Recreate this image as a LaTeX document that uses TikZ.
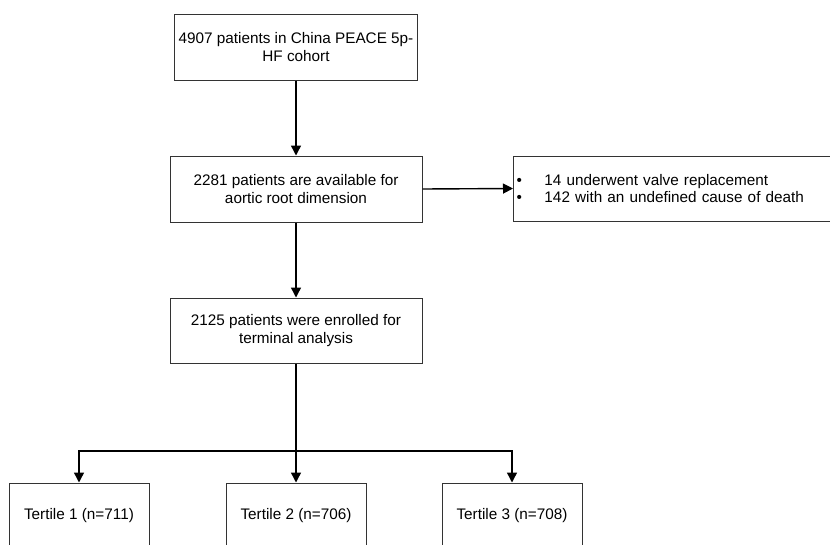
\documentclass[tikz,border=0pt]{standalone}
\usepackage{fontspec}
\setmainfont{Liberation Sans}
\usetikzlibrary{arrows.meta}
\begin{document}
\begin{tikzpicture}[x=1pt,y=-1pt,
  box/.style={draw=black!80, line width=1pt, rectangle, inner sep=0pt, align=center,
    font=\fontsize{15.3}{17.7}\selectfont},
  arr/.style={draw=black, line width=1.4pt, -{Triangle[length=10pt,width=10pt]}},
  ln/.style={draw=black, line width=1.4pt}]
\clip (0,0) rectangle (830,544);
\fill[white] (0,0) rectangle (830,544);
\node[box, minimum width=243pt, minimum height=66pt] (n1) at (296,47)
  {4907 patients in China PEACE 5p-\\HF cohort};
\node[box, minimum width=252pt, minimum height=66pt] (n2) at (296,189)
  {2281 patients are available for\\aortic root dimension};
\node[box, minimum width=252pt, minimum height=65pt] (n3) at (296,330.5)
  {2125 patients were enrolled for\\terminal analysis};
\node[box, anchor=west, minimum height=65pt, text width=330pt, inner xsep=3pt, align=left] (ex) at (513,188.5)
  {\makebox[28pt][l]{\textbullet}14 underwent valve replacement\\\makebox[28pt][l]{\textbullet}142 with an undefined cause of death};
\node[box, minimum width=140pt, minimum height=66pt] (t1) at (79,516) {Tertile 1 (n=711)};
\node[box, minimum width=140pt, minimum height=66pt] (t2) at (296,516) {Tertile 2 (n=706)};
\node[box, minimum width=140pt, minimum height=66pt] (t3) at (512,516) {Tertile 3 (n=708)};
\coordinate (split) at (296,451);
\draw[arr] (n1.south) -- (n2.north);
\draw[arr] (n2.south) -- (n3.north);
\draw[arr] (n2.east) -- (ex.west);
\draw[ln] (n3.south) -- (split);
\draw[arr] (split) -| (t1.north);
\draw[arr] (split) -- (t2.north);
\draw[arr] (split) -| (t3.north);
\end{tikzpicture}
\end{document}
